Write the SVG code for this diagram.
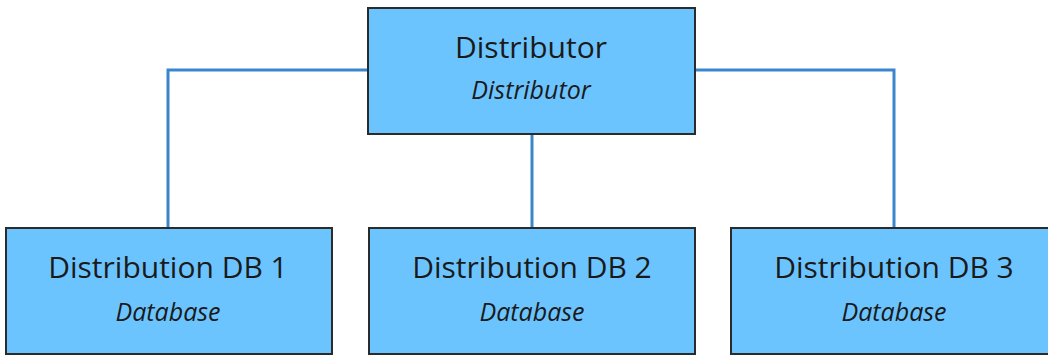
<svg xmlns="http://www.w3.org/2000/svg" width="1048" height="356" viewBox="0 0 1048 356">
<style>
.box{fill:#6cc4ff;stroke:#2b2b2b;stroke-width:2}
.t{font-family:"Open Sans","Noto Sans",sans-serif;font-size:30px;fill:#1a1a1a;text-anchor:middle}
.s{font-family:"Open Sans","Noto Sans",sans-serif;font-size:25px;font-style:italic;fill:#1a1a1a;text-anchor:middle}
.c{fill:none;stroke:#3a86cc;stroke-width:3}
</style>
<rect width="1048" height="356" fill="#ffffff"/>
<g id="connectors">
<polyline class="c" points="368,70 168,70 168,228"/>
<polyline class="c" points="695,70 894,70 894,228"/>
<line class="c" x1="532" y1="134" x2="532" y2="228"/>
</g>
<g id="distributor">
<rect class="box" x="368" y="8" width="327" height="126"/>
<text class="t" x="531" y="58">Distributor</text>
<text class="s" x="531" y="99">Distributor</text>
</g>
<g id="db1">
<rect class="box" x="6" y="228" width="326" height="126"/>
<text class="t" x="168" y="278">Distribution DB 1</text>
<text class="s" x="168" y="321">Database</text>
</g>
<g id="db2">
<rect class="box" x="369" y="228" width="326" height="126"/>
<text class="t" x="532" y="278">Distribution DB 2</text>
<text class="s" x="532" y="321">Database</text>
</g>
<g id="db3">
<rect class="box" x="731" y="228" width="326" height="126"/>
<text class="t" x="894" y="278">Distribution DB 3</text>
<text class="s" x="894" y="321">Database</text>
</g>
</svg>
